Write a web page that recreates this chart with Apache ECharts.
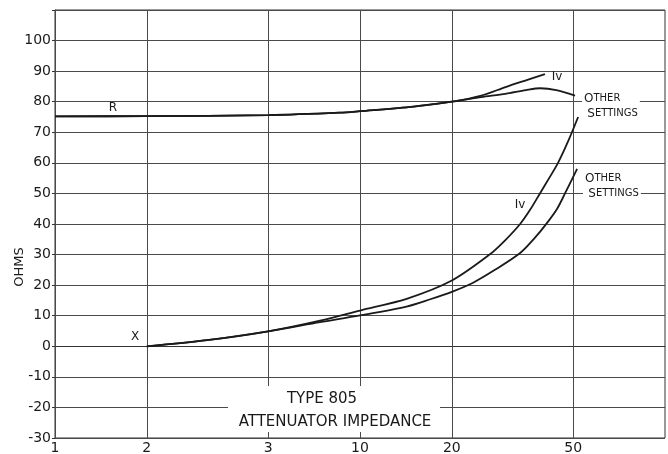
<!DOCTYPE html>
<html><head><meta charset="utf-8">
<script src="https://cdn.jsdelivr.net/npm/echarts@6/dist/echarts.min.js"></script>
<style>html,body{margin:0;padding:0;background:#fff}#c{width:668px;height:454px}</style>
</head><body><div id="c"></div>
<script>
// x tick positions (log scale) and the labels printed under them
const tickValues = [1, 2, 5, 10, 20, 50];
const tickLabels = ['1', '2', '3', '10', '20', '50'];
const yTickMin = -30, yTickMax = 110, yStep = 10;

// R curve, Iv setting
const rIvX = [1, 2, 5, 8.6, 10, 15, 20, 25, 30, 35, 40.4];
const rIvY = [75.2, 75.3, 75.6, 76.4, 76.9, 78.4, 80, 82, 84.8, 87, 89];
// R curve, other settings
const rOtX = [1, 2, 5, 8.6, 10, 15, 20, 25, 30, 35, 39, 44, 50.7];
const rOtY = [75.2, 75.3, 75.6, 76.4, 76.9, 78.4, 80, 81.5, 82.6, 83.8, 84.4, 83.8, 82];
// X curve, Iv setting
const xIvX = [2, 3.15, 5, 7.4, 10, 14.3, 20, 26.6, 29.8, 33.5, 36.2, 38.9, 41.7, 44.6, 48.1, 51.9];
const xIvY = [0, 2, 4.9, 8.4, 11.7, 15.6, 21.5, 30, 34.5, 40, 44.8, 50, 55, 60, 67, 75];
// X curve, other settings
const xOtX = [2, 3.15, 5, 7.4, 10, 14.2, 16.9, 20.1, 23.4, 27.7, 33.5, 37.3, 41, 44.3, 47, 51.5];
const xOtY = [0, 2, 4.9, 7.9, 10.1, 13, 15.3, 17.9, 20.7, 25, 30.5, 35.3, 40.3, 45, 50, 58];

const zip = (xs, ys) => xs.map((x, i) => [x, ys[i]]);
const FONT = 'DejaVu Sans';
const INK = '#1a1a1a';
const GRID = '#4a4a4a';

const curve = (name, data) => ({
  name, type: 'line', data, smooth: 0.3, symbol: 'none',
  lineStyle: { color: INK, width: 1.8 }, z: 5
});

const chart = echarts.init(document.getElementById('c'), null, { renderer: 'canvas' });
const rSeries = curve('R Iv', zip(rIvX, rIvY));
rSeries.markLine = {
  silent: true, symbol: ['none', 'none'], animation: false,
  lineStyle: { color: GRID, width: 1, type: 'solid' },
  label: { position: 'start', distance: 3, color: INK, fontFamily: FONT, fontSize: 14 },
  data: tickValues.map((v, i) => ({ xAxis: v, label: { formatter: tickLabels[i] } }))
};

const smallCaps = {
  b: { font: '12px "DejaVu Sans"', fill: INK, lineHeight: 15 },
  s: { font: '10px "DejaVu Sans"', fill: INK, lineHeight: 15 }
};

chart.setOption({
  animation: false,
  backgroundColor: '#fff',
  grid: { left: 55, right: 3, top: 10, bottom: 16, containLabel: false, outerBoundsMode: 'none',
    show: true, borderColor: '#333', borderWidth: 1 },
  xAxis: {
    type: 'log', logBase: 10, min: 1, max: 100,
    axisLine: { show: true, lineStyle: { color: '#333' } },
    axisTick: { show: false }, axisLabel: { show: false }, splitLine: { show: false }
  },
  yAxis: {
    type: 'value', min: yTickMin, max: yTickMax, interval: yStep,
    name: 'OHMS', nameLocation: 'middle', nameRotate: 90, nameGap: 29, nameMoveOverlap: false,
    nameTextStyle: { color: INK, fontFamily: FONT, fontSize: 13, padding: [0, 86, 0, 0] },
    axisLine: { show: true, lineStyle: { color: '#333' } },
    axisTick: { show: true, length: 3, lineStyle: { color: '#333' } },
    axisLabel: { color: INK, fontFamily: FONT, fontSize: 14, margin: 4,
      formatter: v => (v > 100 ? '' : String(v)) },
    splitLine: { show: true, lineStyle: { color: GRID, width: 1 } }
  },
  series: [
    rSeries,
    curve('R other', zip(rOtX, rOtY)),
    curve('X Iv', zip(xIvX, xIvY)),
    curve('X other', zip(xOtX, xOtY))
  ],
  graphic: [
    { type: 'rect', z: 50, shape: { x: 228, y: 386, width: 212, height: 46 }, style: { fill: '#fff' } },
    { type: 'text', z: 60, x: 322, y: 399, style: { text: 'TYPE 805', align: 'center', verticalAlign: 'middle', fill: INK, font: '15px "DejaVu Sans"' } },
    { type: 'text', z: 60, x: 335, y: 422, style: { text: 'ATTENUATOR IMPEDANCE', align: 'center', verticalAlign: 'middle', fill: INK, font: '15px "DejaVu Sans"' } },
    { type: 'text', z: 60, x: 113, y: 108, style: { text: 'R', align: 'center', verticalAlign: 'middle', fill: INK, font: '12px "DejaVu Sans"' } },
    { type: 'text', z: 60, x: 135, y: 337, style: { text: 'X', align: 'center', verticalAlign: 'middle', fill: INK, font: '12px "DejaVu Sans"' } },
    { type: 'text', z: 60, x: 557, y: 77, style: { text: 'Iv', align: 'center', verticalAlign: 'middle', fill: INK, font: '12px "DejaVu Sans"' } },
    { type: 'text', z: 60, x: 520, y: 205, style: { text: 'Iv', align: 'center', verticalAlign: 'middle', fill: INK, font: '12px "DejaVu Sans"' } },
    { type: 'text', z: 60, x: 582, y: 90, style: {
      text: '{b|O}{s|THER}\n {b|S}{s|ETTINGS}', fill: INK, backgroundColor: '#fff', padding: [1, 2],
      lineHeight: 15, rich: smallCaps } },
    { type: 'text', z: 60, x: 583, y: 170, style: {
      text: '{b|O}{s|THER}\n {b|S}{s|ETTINGS}', fill: INK, backgroundColor: '#fff', padding: [1, 2],
      lineHeight: 15, rich: smallCaps } }
  ]
});
</script></body></html>
